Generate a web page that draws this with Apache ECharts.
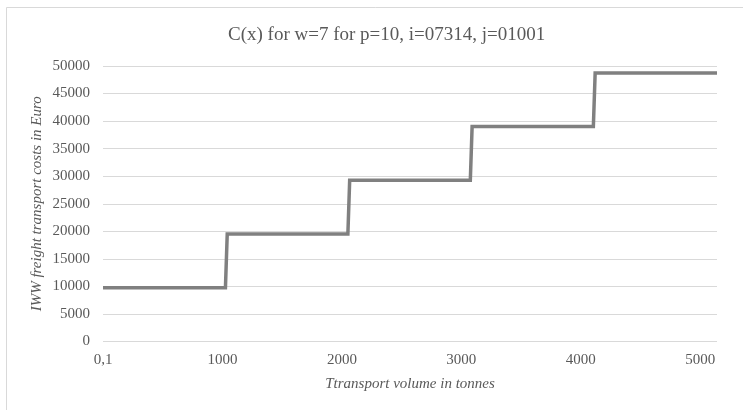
<!DOCTYPE html>
<html>
<head>
<meta charset="utf-8">
<script src="https://cdn.jsdelivr.net/npm/echarts@6/dist/echarts.min.js"></script>
<style>html,body{margin:0;padding:0;background:#fff;}#c{width:743px;height:410px;}</style>
</head>
<body>
<div id="c"></div>
<script>
var titleText = "C(x) for w=7 for p=10, i=07314, j=01001";
var xName = "Ttransport volume in tonnes";
var yName = "IWW freight transport costs in Euro";
// step function points [tonnes, euro]
var xValues = [0.1, 1025, 1040, 2050, 2065, 3075, 3090, 4105, 4120, 5140];
var yValues = [9750, 9750, 19500, 19500, 29250, 29250, 39000, 39000, 48750, 48750];
var firstTickLabel = "0,1";

var data = xValues.map(function(x, i){ return [x, yValues[i]]; });
var chart = echarts.init(document.getElementById('c'));
var font = "'Liberation Serif', 'Times New Roman', serif";
chart.setOption({
  backgroundColor: '#fff',
  animation: false,
  title: {
    text: titleText, left: 223, top: 21,
    textStyle: {fontFamily: font, fontSize: 19, fontWeight: 'normal', color: '#595959'}
  },
  graphic: [{
    type: 'rect', shape: {x: 6.5, y: 7.5, width: 760, height: 420},
    style: {fill: 'none', stroke: '#d9d9d9', lineWidth: 1}, silent: true
  }],
  grid: {left: 103, right: 26, top: 66, bottom: 68.5, containLabel: false},
  xAxis: {
    type: 'value', min: 0, max: 5140, interval: 1000,
    name: xName, nameLocation: 'middle', nameGap: 35, nameMoveOverlap: false,
    nameTextStyle: {fontFamily: font, fontSize: 15, fontStyle: 'italic', color: '#595959'},
    axisLine: {show: false}, axisTick: {show: false}, splitLine: {show: false},
    axisLabel: {
      fontFamily: font, fontSize: 15, color: '#595959', margin: 11,
      showMaxLabel: false,
      formatter: function(v){ return v === 0 ? firstTickLabel : String(v); }
    }
  },
  yAxis: {
    type: 'value', min: 0, max: 50000, interval: 5000,
    name: yName, nameLocation: 'middle', nameGap: 58, nameMoveOverlap: false,
    nameTextStyle: {fontFamily: font, fontSize: 15, fontStyle: 'italic', color: '#595959'},
    axisLine: {show: false}, axisTick: {show: false},
    splitLine: {show: true, lineStyle: {color: '#d9d9d9', width: 1}},
    axisLabel: {
      fontFamily: font, fontSize: 15, color: '#595959', margin: 13,
      formatter: function(v){ return String(v); }
    }
  },
  series: [{
    type: 'line', data: data, showSymbol: false, symbol: 'none',
    lineStyle: {color: '#808080', width: 3.5, join: 'miter'},
    itemStyle: {color: '#808080'}
  }]
});
</script>
</body>
</html>
